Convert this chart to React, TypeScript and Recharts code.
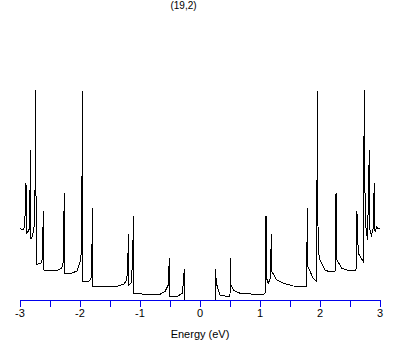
import React from "react";
import { LineChart, Line, XAxis, YAxis } from "recharts";

// density of states for the (19,2) tube
const energy = [
  -3.0, -2.95, -2.922, -2.9, -2.892, -2.862, -2.838, -2.828, -2.82, -2.792,
  -2.767, -2.75, -2.738, -2.73, -2.7, -2.65, -2.625, -2.612, -2.603, -2.5,
  -2.367, -2.305, -2.278, -2.262, -2.253, -2.133, -2.05, -2.0, -1.975, -1.968,
  -1.962, -1.953, -1.867, -1.817, -1.803, -1.795, -1.787, -1.583, -1.367, -1.267,
  -1.222, -1.203, -1.195, -1.187, -1.15, -1.12, -1.112, -1.103, -0.917, -0.667,
  -0.583, -0.528, -0.512, -0.503, -0.367, -0.292, -0.27, -0.262, -0.257, 0.257,
  0.262, 0.27, 0.333, 0.417, 0.5, 0.505, 0.517, 0.555, 0.667, 0.917,
  1.072, 1.092, 1.1, 1.108, 1.138, 1.175, 1.188, 1.2, 1.278, 1.388,
  1.555, 1.778, 1.788, 1.797, 1.888, 1.945, 1.955, 1.962, 1.975, 2.0,
  2.083, 2.155, 2.258, 2.267, 2.273, 2.283, 2.362, 2.467, 2.583, 2.608,
  2.615, 2.622, 2.638, 2.722, 2.738, 2.745, 2.767, 2.792, 2.822, 2.833,
  2.858, 2.883, 2.905, 2.917, 2.945, 2.967, 2.992,
];

const dos = [
  7.17, 7.0, 7.33, 11.67, 6.67, 6.9, 7.2, 15.0, 6.07, 6.4,
  7.2, 10.83, 21.0, 3.5, 3.6, 3.7, 4.2, 8.9, 3.0, 2.95,
  3.0, 3.2, 3.83, 10.67, 2.67, 2.7, 2.9, 3.8, 4.8, 8.8,
  20.9, 1.83, 1.8, 2.1, 3.2, 9.23, 1.33, 1.3, 1.4, 1.6,
  2.0, 3.5, 6.6, 1.5, 1.7, 4.0, 8.4, 0.67, 0.57, 0.57,
  0.85, 1.5, 4.17, 0.4, 0.4, 0.7, 2.4, 3.07, 0, 0,
  3.07, 1.7, 0.5, 0.4, 0.4, 4.17, 1.5, 1.0, 0.67, 0.57,
  0.6, 0.73, 8.4, 2.2, 1.67, 2.2, 6.6, 2.83, 2.0, 1.67,
  1.4, 1.33, 9.23, 3.33, 2.17, 1.83, 20.9, 8.83, 4.8, 4.0,
  3.0, 2.83, 2.9, 10.67, 8.67, 4.0, 3.17, 2.95, 2.93, 3.2,
  8.9, 7.67, 4.67, 3.83, 21.0, 11.83, 7.2, 6.0, 15.0, 7.0,
  6.5, 7.0, 11.67, 6.83, 7.33, 7.1, 7.2,
];

const xTicks = [-3, -2.5, -2, -1.5, -1, -0.5, 0, 0.5, 1, 1.5, 2, 2.5, 3];

const data = energy.map((e, i) => ({ e, d: dos[i] }));

const axisBlue = "#0000ee";
const font = "'Liberation Sans', Arial, sans-serif";

function EnergyTick(props: any) {
  const { x, y, payload } = props;
  if (!Number.isInteger(payload.value)) return <g />;
  return (
    <text x={x} y={y} dy="0.71em" textAnchor="middle" fontSize={11} fontFamily={font} fill="#000">
      {String(payload.value)}
    </text>
  );
}

export default function App() {
  return (
    <div style={{ position: "absolute", left: 0, top: 0, width: 409, height: 345, background: "#fff" }}>
      <style>{`
        .recharts-line-curve, .recharts-cartesian-axis-line, .recharts-cartesian-axis-tick-line {
          shape-rendering: crispEdges;
        }
      `}</style>
      <div
        style={{
          position: "absolute",
          left: 0,
          width: 367,
          top: 0,
          textAlign: "center",
          fontFamily: font,
          fontSize: 10,
          lineHeight: "12px",
          color: "#000",
        }}
      >
        (19,2)
      </div>
      <LineChart width={409} height={345} data={data} margin={{ top: 0, right: 29, bottom: 5, left: 20 }}>
        <XAxis
          dataKey="e"
          type="number"
          domain={[-3, 3]}
          ticks={xTicks}
          allowDataOverflow
          height={40}
          tickSize={7}
          tickMargin={2}
          stroke={axisBlue}
          tick={<EnergyTick />}
          label={{ value: "Energy (eV)", position: "insideBottom", offset: 2, fontSize: 11, fontFamily: font, fill: "#000" }}
        />
        <YAxis hide domain={[0, 30]} />
        <Line type="linear" dataKey="d" stroke="#000" strokeWidth={1} dot={false} isAnimationActive={false} />
      </LineChart>
    </div>
  );
}
